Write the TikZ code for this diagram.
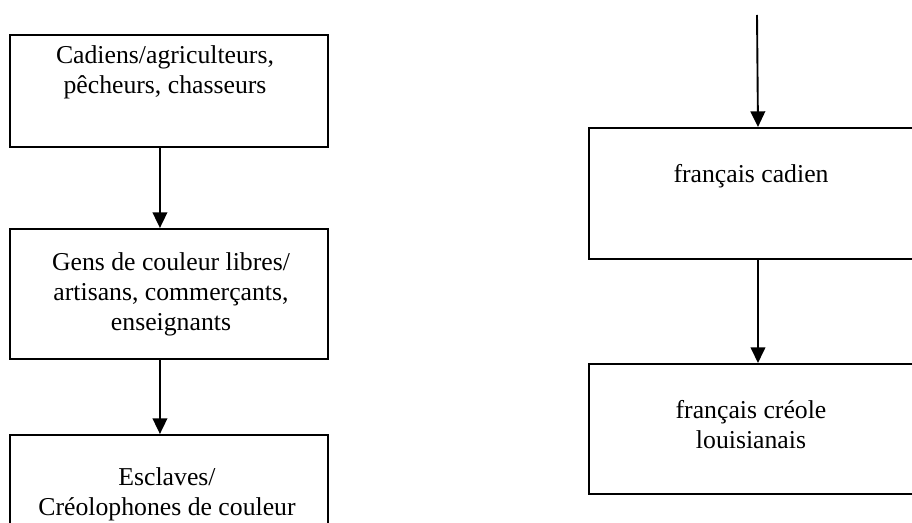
\documentclass[tikz,border=0pt]{standalone}
\usepackage{fontspec}
\setmainfont{Liberation Serif}
\usetikzlibrary{arrows.meta}

\begin{document}
\begin{tikzpicture}[x=0.478pt, y=-0.478pt,
		box/.style={draw, rectangle, line width=0.9pt, inner sep=0pt, anchor=north west},
		txt/.style={align=center, inner sep=0pt, font=\fontsize{12.3}{14.3}\selectfont},
		arr/.style={-{Triangle[width=7pt,length=7.5pt]}, line width=0.9pt}]
		% \draw[help lines, step=50] (0,0) grid (912,522);
		\useasboundingbox (0,0) rectangle (912,522);

		\node[box, minimum width=152pt, minimum height=53.5pt] (cad) at (9,34) {};
		\node[box, minimum width=152pt, minimum height=62.1pt] (gens) at (9,228) {};
		\node[box, minimum width=152pt, minimum height=62.1pt] (escl) at (9,434) {};
		\node[box, minimum width=161.6pt, minimum height=62.6pt] (fc) at (588,127) {};
		\node[box, minimum width=161.6pt, minimum height=62.1pt] (fcl) at (588,363) {};

		\node[txt] (tcad) at (165,72) {Cadiens/agriculteurs,\\pêcheurs, chasseurs};
		\node[txt] (tgens) at (171,294) {Gens de couleur libres/\\artisans, commerçants,\\enseignants};
		\node[txt] (tescl) at (167,494) {Esclaves/\\Créolophones de couleur};
		\node[txt] (tfc) at (751,176) {français cadien};
		\node[txt] (tfcl) at (751,425) {français créole\\louisianais};

		\coordinate (src) at (757,15);
		\draw[arr] ([xshift=-4.3pt]cad.south) -- ([xshift=-4.3pt]gens.north);
		\draw[arr] ([xshift=-4.3pt]gens.south) -- ([xshift=-4.3pt]escl.north);
		\draw[arr] (src) -- (fc.north);
		\draw[arr] (fc.south) -- (fcl.north);
	\end{tikzpicture}
\end{document}
